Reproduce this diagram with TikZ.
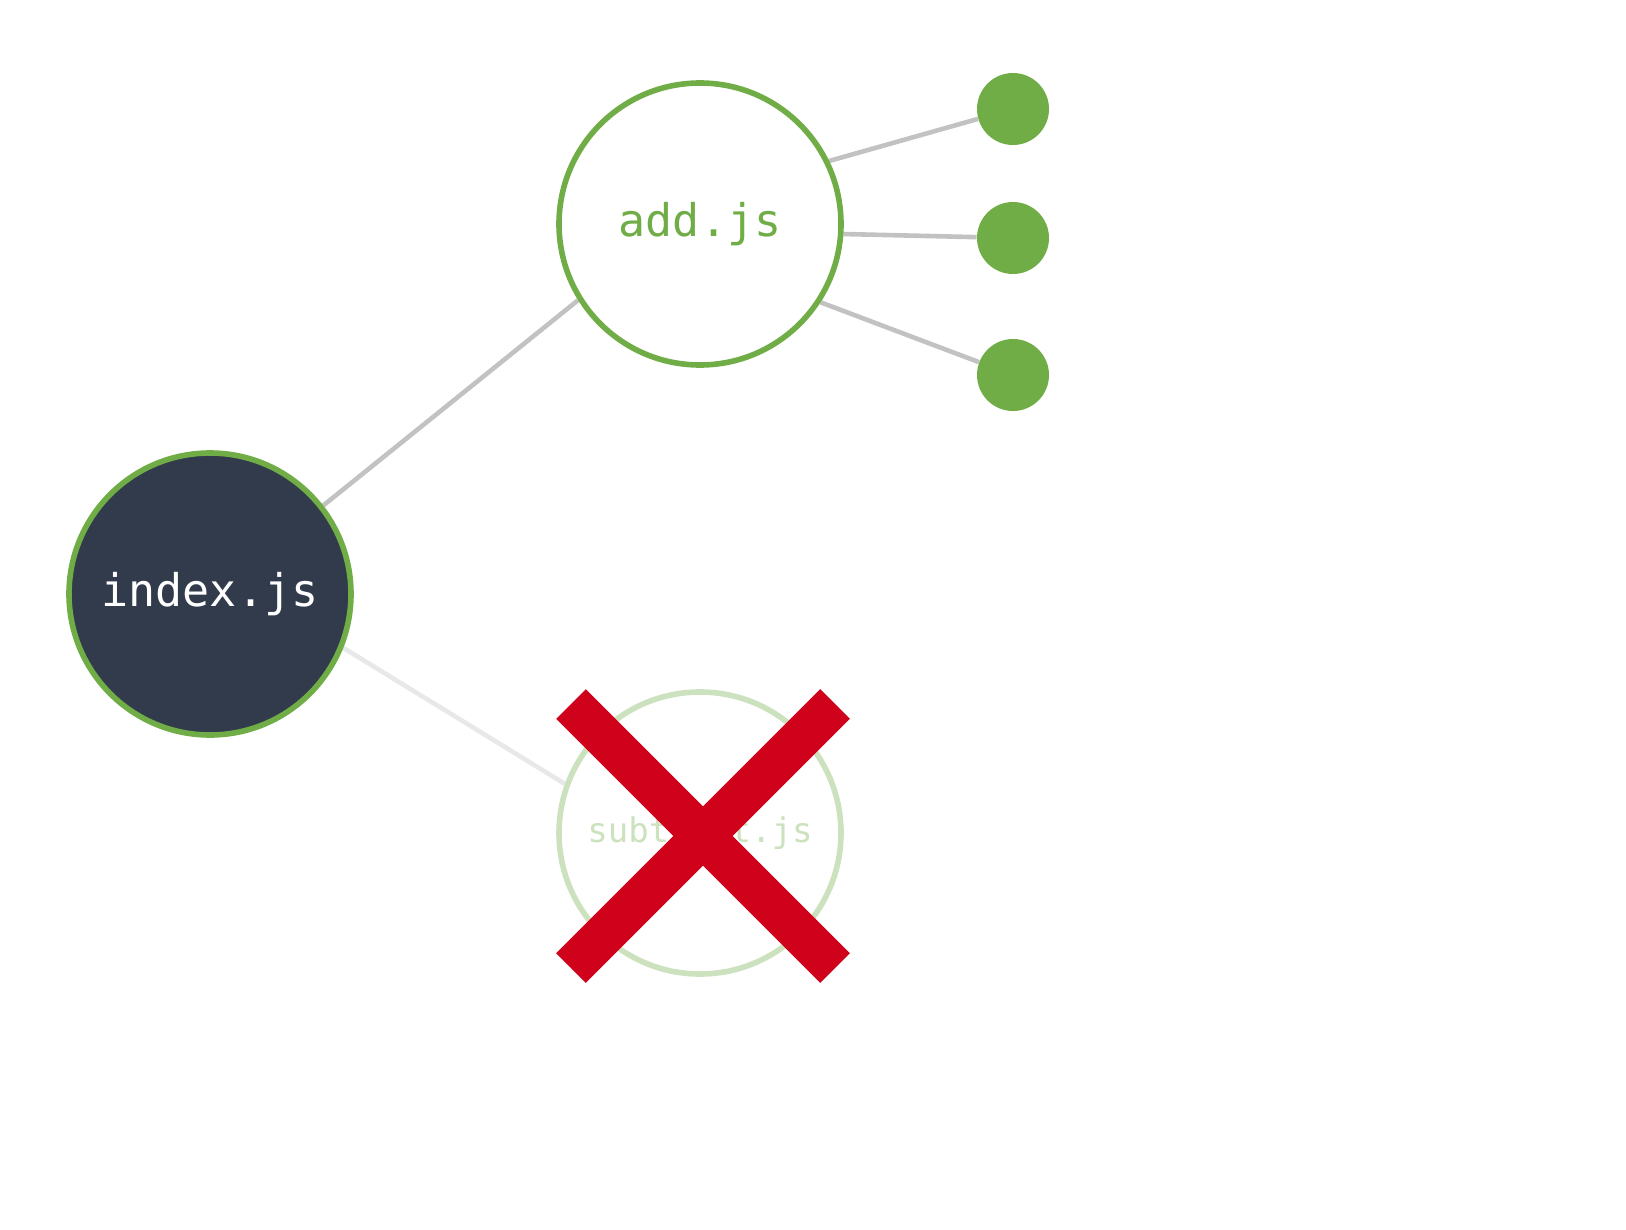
\documentclass[tikz,border=0pt]{standalone}
\usepackage{fontspec}
\setmonofont{DejaVu Sans Mono}
\usetikzlibrary{backgrounds}
\definecolor{leaf}{HTML}{70AD47}
\definecolor{paleleaf}{HTML}{CCE2BE}
\definecolor{slate}{HTML}{323B4C}
\definecolor{wiregray}{HTML}{C2C2C2}
\definecolor{palegray}{HTML}{E8E8E8}
\definecolor{crossred}{HTML}{D0021B}
\begin{document}
\begin{tikzpicture}[x=.5pt, y=-.5pt, line join=round]
	\useasboundingbox (0,0) rectangle (1626,1230);
	\tikzset{file/.style={circle, minimum size=141pt, inner sep=0pt, line width=2.8pt, draw=leaf, fill=white, font=\ttfamily\fontsize{22.5}{27}\selectfont}}
	\tikzset{dot/.style={circle, minimum size=36pt, inner sep=0pt, fill=leaf}}
	\tikzset{wire/.style={line width=2.3pt, draw=wiregray}}
	\node[file, fill=slate, text=white] (index) at (210,594) {index.js};
	\node[file, text=leaf] (add) at (700,224) {add.js};
	\node[file, draw=paleleaf, text=paleleaf, font=\ttfamily\fontsize{17}{20}\selectfont] (sub) at (700,833) {subtract.js};
	\foreach \i/\y in {1/109,2/238,3/375} \node[dot] (d\i) at (1013,\y) {};
	\begin{scope}[on background layer]
		\draw[wire] (index.38) -- (add.212);
		\draw[wire, draw=palegray] (index.-22) -- (sub.160);
		\draw[wire] (add.26) -- (d1) (add.-4) -- (d2) (add.-33) -- (d3);
	\end{scope}
	% the cross over subtract.js
	\draw[line width=21pt, crossred] (571,704) -- (835,968) (835,704) -- (571,968);
\end{tikzpicture}
\end{document}
